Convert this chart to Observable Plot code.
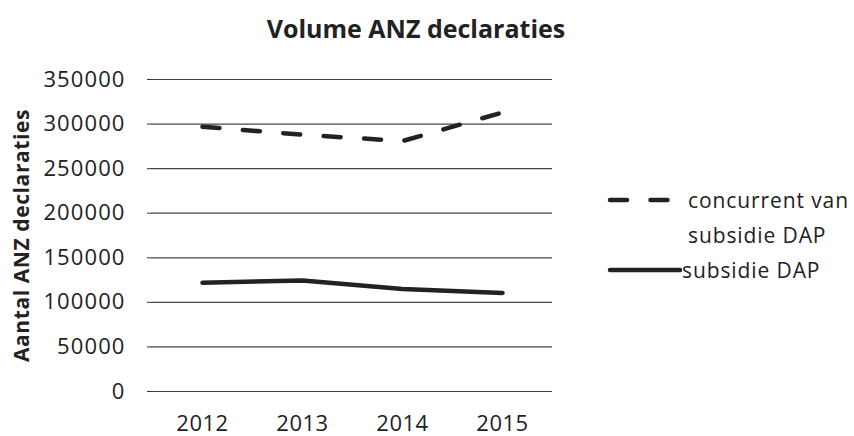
<!DOCTYPE html>
<html>
<head>
<meta charset="utf-8">
<script src="https://cdn.jsdelivr.net/npm/d3@7"></script>
<script src="https://cdn.jsdelivr.net/npm/@observablehq/plot@0.6"></script>
<style>
  html, body { margin: 0; padding: 0; background: #fff; }
  #wrap { position: relative; width: 854px; height: 436px; font-family: "Open Sans", sans-serif; color: #222; }
  #title { position: absolute; left: 0; width: 832px; top: 11px; text-align: center; font-weight: bold; font-size: 25px; letter-spacing: 0px; }
  #legend { position: absolute; left: 606px; top: 183px; font-size: 21px; line-height: 35px; letter-spacing: 0.9px; }
  .row { display: flex; align-items: flex-start; }
  .row svg { flex: none; }
</style>
</head>
<body>
<div id="wrap">
  <div id="chart"></div>
  <div id="title"></div>
  <div id="legend"></div>
</div>
<script>
const titleText = "Volume ANZ declaraties";
const yLabel = "Aantal ANZ declaraties";
const years = ["2012", "2013", "2014", "2015"];
const concurrentValues = [297000, 288000, 281000, 313000];
const subsidieValues = [122000, 124500, 115000, 110500];
const seriesNames = ["concurrent van subsidie DAP", "subsidie DAP"];
const legendLines = [["concurrent van", "subsidie DAP"], ["subsidie DAP"]];
const yTicks = [0, 50000, 100000, 150000, 200000, 250000, 300000, 350000];

const rows = [];
years.forEach((y, i) => rows.push({year: y, value: concurrentValues[i], series: seriesNames[0]}));
years.forEach((y, i) => rows.push({year: y, value: subsidieValues[i], series: seriesNames[1]}));

const chart = Plot.plot({
  width: 854,
  height: 436,
  marginLeft: 151,
  marginRight: 302,
  marginTop: 79,
  marginBottom: 45,
  style: {fontFamily: "Open Sans, sans-serif", fontSize: "22px", color: "#222", background: "#fff"},
  x: {type: "point", domain: years, padding: 0.5},
  y: {domain: [0, 350000]},
  marks: [
    Plot.gridY(yTicks, {stroke: "#444", strokeOpacity: 1, strokeWidth: 1.2}),
    Plot.axisY(yTicks, {tickSize: 4, tickPadding: 22, tickFormat: d => String(d), label: null, stroke: "#333", fontSize: 22}),
    Plot.ruleX([0], {x: () => null, frameAnchor: "left", stroke: "#333", strokeWidth: 1.2}),
    Plot.axisX({tickSize: 0, tickPadding: 24, label: null, fontSize: 22}),
    Plot.text([yLabel], {frameAnchor: "left", textAnchor: "middle", dx: -129, rotate: -90, fontWeight: "bold", fontSize: 21, fill: "#222", className: "ylab"}),
    Plot.line(rows.filter(d => d.series === seriesNames[0]), {x: "year", y: "value", stroke: "#222", strokeWidth: 4.5, strokeDasharray: "17,23.5", strokeLinecap: "round", curve: "linear"}),
    Plot.line(rows.filter(d => d.series === seriesNames[1]), {x: "year", y: "value", stroke: "#222", strokeWidth: 4.5, strokeLinecap: "round", curve: "linear"})
  ]
});
document.getElementById("chart").appendChild(chart);
const yTickStrings = yTicks.map(String);
d3.select(chart).selectAll("text").each(function() {
  const s = this.textContent.trim();
  if (yTickStrings.includes(s)) {
    this.style.fontSize = "22px";
    this.style.letterSpacing = "1.1px";
  } else if (years.includes(s)) {
    this.style.fontSize = "22px";
    this.style.letterSpacing = "0.5px";
  }
});
d3.select(chart).selectAll("g.ylab text").style("letter-spacing", "0.6px");
document.getElementById("title").textContent = titleText;

const legend = document.getElementById("legend");
legendLines.forEach((lines, i) => {
  const row = document.createElement("div");
  row.className = "row";
  const ns = "http://www.w3.org/2000/svg";
  const svg = document.createElementNS(ns, "svg");
  svg.setAttribute("width", i === 0 ? 82 : 76);
  svg.setAttribute("height", 35);
  const ln = document.createElementNS(ns, "line");
  ln.setAttribute("x1", 4); ln.setAttribute("x2", i === 0 ? 62 : 74);
  ln.setAttribute("y1", 17); ln.setAttribute("y2", 17);
  ln.setAttribute("stroke", "#222"); ln.setAttribute("stroke-width", 4.5);
  ln.setAttribute("stroke-linecap", "round");
  if (i === 0) ln.setAttribute("stroke-dasharray", "17,23.5");
  svg.appendChild(ln);
  row.appendChild(svg);
  const txt = document.createElement("div");
  txt.innerHTML = lines.join("<br>");
  row.appendChild(txt);
  legend.appendChild(row);
});
</script>
</body>
</html>
